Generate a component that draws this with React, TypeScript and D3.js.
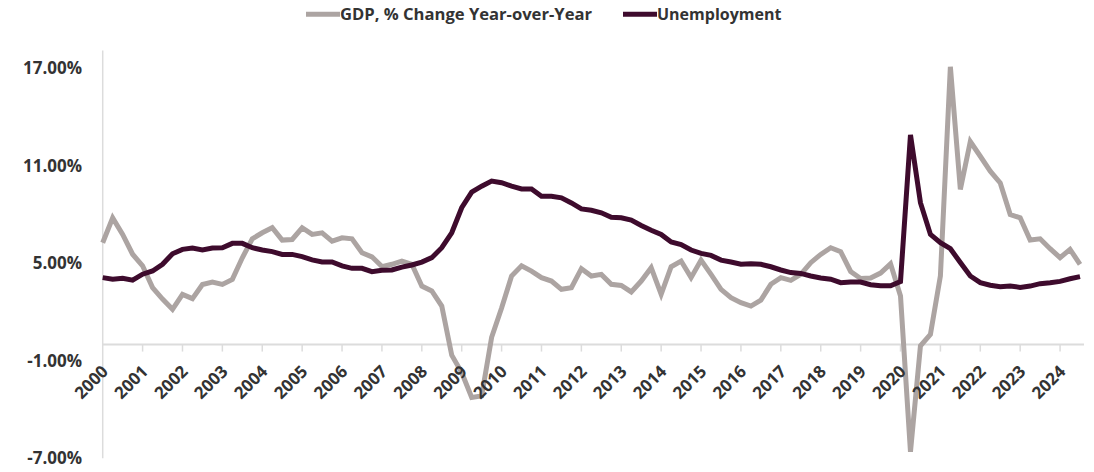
import React from "react";
import * as d3 from "d3";

// Quarterly, 2000 Q1 .. 2024 Q3
const years: string[] = Array.from({ length: 25 }, (_, k) => String(2000 + k));

const gdpYoY: number[] = [
  6.27, 7.8, 6.78, 5.56, 4.85, 3.51, 2.8, 2.17, 3.09, 2.83, 3.7, 3.85, 3.7, 4.01, 5.34, 6.51,
  6.88, 7.19, 6.43, 6.47, 7.19, 6.78, 6.88, 6.37, 6.57, 6.51, 5.65, 5.4, 4.8, 4.94, 5.14, 4.94,
  3.6, 3.3, 2.37, -0.65, -1.72, -3.26, -3.16, 0.45, 2.25, 4.22, 4.85, 4.52, 4.12, 3.91, 3.4, 3.5,
  4.67, 4.22, 4.32, 3.71, 3.64, 3.24, 3.91, 4.73, 3.09, 4.79, 5.14, 4.12, 5.2, 4.32, 3.4, 2.89,
  2.58, 2.37, 2.74, 3.71, 4.12, 3.95, 4.32, 5.04, 5.55, 5.96, 5.72, 4.5, 4.07, 4.1, 4.4, 4.97,
  2.99, -6.6, -0.08, 0.63, 4.22, 17.1, 9.55, 12.5, 11.59, 10.67, 9.95, 8.0, 7.8, 6.43, 6.51, 5.9,
  5.35, 5.86, 4.94,
];

const unemployment: number[] = [
  4.12, 4.02, 4.08, 3.96, 4.33, 4.53, 4.94, 5.59, 5.86, 5.94, 5.82, 5.94, 5.96, 6.23, 6.23, 5.96,
  5.82, 5.72, 5.55, 5.55, 5.41, 5.21, 5.08, 5.08, 4.84, 4.69, 4.69, 4.49, 4.57, 4.59, 4.77, 4.9,
  5.08, 5.35, 5.96, 6.88, 8.42, 9.38, 9.75, 10.06, 9.96, 9.75, 9.58, 9.58, 9.13, 9.13, 9.03, 8.72,
  8.35, 8.27, 8.11, 7.84, 7.8, 7.66, 7.33, 7.04, 6.78, 6.31, 6.16, 5.82, 5.61, 5.49, 5.2, 5.08,
  4.94, 4.98, 4.94, 4.79, 4.59, 4.43, 4.38, 4.22, 4.1, 4.02, 3.81, 3.85, 3.85, 3.68, 3.62, 3.62,
  3.88, 12.9, 8.73, 6.78, 6.27, 5.9, 5.05, 4.22, 3.81, 3.65, 3.56, 3.6, 3.52, 3.6, 3.75, 3.81,
  3.89, 4.05, 4.18,
];

const yTicks: number[] = [-7, -1, 5, 11, 17];
const seriesNames: string[] = ["GDP, % Change Year-over-Year", "Unemployment"];

const W = 1094;
const H = 472;
const GRAY = "#ACA4A2";
const DARK = "#3E0B2D";
const TEXT = "#333333";
const AXIS = "#DCDCDC";
const FONT = "'Open Sans', Lato, sans-serif";

export default function App() {
  const x = d3.scaleLinear().domain([0, 98.4]).range([102.7, 1084]);
  const y = d3.scaleLinear().domain([-7, 18.1]).range([458.3, 50.5]);

  const line = d3
    .line<number>()
    .x((_, i) => x(i))
    .y((d) => y(d));

  const tickIdx = years.map((_, k) => k * 4);

  return (
    <svg
      width={W}
      height={H}
      style={{ position: "absolute", left: 0, top: 0, background: "#fff" }}
      fontFamily={FONT}
    >
      {/* vertical axis line */}
      <line x1={x(0)} x2={x(0)} y1={y(18.1)} y2={y(-7)} stroke={AXIS} strokeWidth={1.5} />
      {/* horizontal axis at 0 */}
      <line x1={x(0)} x2={x(98.4)} y1={y(0)} y2={y(0)} stroke={AXIS} strokeWidth={2} />
      {tickIdx.slice(1).map((i) => (
        <line key={i} x1={x(i)} x2={x(i)} y1={y(0)} y2={y(0) + 7} stroke={AXIS} strokeWidth={1.5} />
      ))}

      {/* series */}
      <path d={line(gdpYoY) || ""} fill="none" stroke={GRAY} strokeWidth={5} />
      <path d={line(unemployment) || ""} fill="none" stroke={DARK} strokeWidth={5} />

      {/* y labels */}
      {yTicks.map((t) => (
        <text
          key={t}
          x={82}
          y={y(t)}
          dy="0.36em"
          textAnchor="end"
          fontSize={17}
          fontWeight={700}
          fill={TEXT}
        >
          {t.toFixed(2) + "%"}
        </text>
      ))}

      {/* x labels */}
      {years.map((yr, k) => {
        const px = x(k * 4) + 6.5;
        const py = y(0) + 28;
        return (
          <text
            key={yr}
            x={px}
            y={py}
            transform={`rotate(-45 ${px} ${py})`}
            textAnchor="end"
            fontSize={17}
            fontWeight={700}
            fill={TEXT}
          >
            {yr}
          </text>
        );
      })}

      {/* legend */}
      <g>
        <line x1={306} x2={340} y1={14.3} y2={14.3} stroke={GRAY} strokeWidth={5} />
        <text
          x={340}
          y={20.3}
          fontSize={16}
          fontWeight={700}
          fill={TEXT}
          textLength={252}
          lengthAdjust="spacingAndGlyphs"
        >
          {seriesNames[0]}
        </text>
        <line x1={623} x2={657} y1={14.3} y2={14.3} stroke={DARK} strokeWidth={5} />
        <text x={657} y={20.3} fontSize={16} fontWeight={700} fill={TEXT}>
          {seriesNames[1]}
        </text>
      </g>
    </svg>
  );
}
